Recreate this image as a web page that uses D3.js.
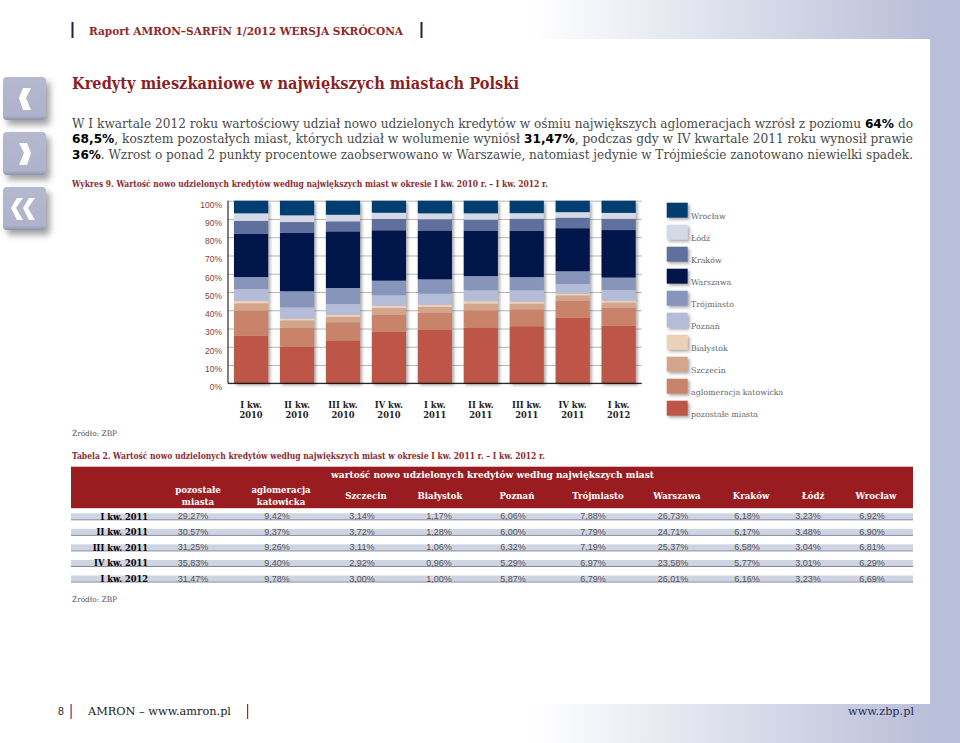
<!DOCTYPE html>
<html><head><meta charset="utf-8">
<script src="https://cdn.jsdelivr.net/npm/d3@7"></script>
<style>
html,body{margin:0;padding:0;background:#fff}
svg{display:block}
text{font-family:"DejaVu Serif",serif}
.sans{font-family:"Liberation Sans",Arial,sans-serif}
.domain{display:none}
</style></head><body>
<div id="chart"></div>
<script>
const seriesNames=["pozostałe miasta","aglomeracja katowicka","Szczecin","Białystok","Poznań","Trójmiasto","Warszawa","Kraków","Łódź","Wrocław"];
const seriesColors=["#bd5747","#c9836a","#d3a68c","#ecd0b8","#b5bcd7","#8795ba","#00134b","#5f6f9f","#d5d9e6","#003c71"];
const quarters2010=["I kw. 2010","II kw. 2010","III kw. 2010","IV kw. 2010"];
const q1_2010=[26.1,13.7,4.0,1.3,6.5,6.6,23.6,7.2,4.1,6.9];
const q2_2010=[20.1,10.4,4.0,0.9,6.2,8.8,32.1,5.8,3.7,8.0];
const q3_2010=[23.5,9.9,2.9,1.1,6.0,8.8,31.0,5.5,3.6,7.7];
const q4_2010=[28.3,9.3,3.6,1.3,5.7,8.0,27.6,6.2,3.4,6.6];
const quarters=["I kw. 2011","II kw. 2011","III kw. 2011","IV kw. 2011","I kw. 2012"];
const q1_2011=[29.27,9.42,3.14,1.17,6.06,7.88,26.73,6.18,3.23,6.92];
const q2_2011=[30.57,9.37,3.72,1.28,6.00,7.79,24.71,6.17,3.48,6.90];
const q3_2011=[31.25,9.26,3.11,1.06,6.32,7.19,25.37,6.58,3.04,6.81];
const q4_2011=[35.83,9.40,2.92,0.96,5.29,6.97,23.58,5.77,3.01,6.29];
const q1_2012=[31.47,9.78,3.00,1.00,5.87,6.79,26.01,6.16,3.23,6.69];
const yTicks=[0,10,20,30,40,50,60,70,80,90,100];

const svg=d3.select("#chart").append("svg").attr("width",960).attr("height",743);
const defs=svg.append("defs");
const g1=defs.append("linearGradient").attr("id","fade");
g1.append("stop").attr("offset","0").attr("stop-color","#fff");
g1.append("stop").attr("offset","1").attr("stop-color","#b9bfd8");
const sh=defs.append("filter").attr("id","sh").attr("x","-20%").attr("y","-20%").attr("width","150%").attr("height","150%");
sh.append("feDropShadow").attr("dx",2).attr("dy",2).attr("stdDeviation",1.6).attr("flood-color","#555").attr("flood-opacity",.5);
const shb=defs.append("filter").attr("id","shb").attr("x","-30%").attr("y","-30%").attr("width","170%").attr("height","170%");
shb.append("feDropShadow").attr("dx",4).attr("dy",5).attr("stdDeviation",3).attr("flood-color","#555").attr("flood-opacity",.55);
const g2=defs.append("linearGradient").attr("id","btn").attr("x1",0).attr("y1",0).attr("x2",0).attr("y2",1);
g2.append("stop").attr("offset","0").attr("stop-color","#b4b9d0");
g2.append("stop").attr("offset",".9").attr("stop-color","#aeb3cb");
g2.append("stop").attr("offset","1").attr("stop-color","#8e93ac");

// page background
svg.append("rect").attr("x",530).attr("y",0).attr("width",400).attr("height",743).attr("fill","url(#fade)");
svg.append("rect").attr("x",930).attr("y",0).attr("width",30).attr("height",743).attr("fill","#b9bfd8");
svg.append("rect").attr("x",0).attr("y",39).attr("width",930).attr("height",665).attr("fill","#fff");

function T(x,y,s,size,fill,opts={}){
  const t=svg.append("text").attr("x",x).attr("y",y).attr("font-size",size).attr("fill",fill).text(s);
  if(opts.bold)t.attr("font-weight",700);
  if(opts.anchor)t.attr("text-anchor",opts.anchor);
  if(opts.len)t.attr("textLength",opts.len).attr("lengthAdjust","spacingAndGlyphs");
  if(opts.sans)t.attr("class","sans");
  return t;
}
// header
svg.append("rect").attr("x",71.5).attr("y",22).attr("width",2).attr("height",16).attr("fill","#1b2340");
svg.append("rect").attr("x",420.5).attr("y",22).attr("width",2).attr("height",16).attr("fill","#1b2340");
T(89,34.5,"Raport AMRON–SARFiN 1/2012 WERSJA SKRÓCONA",11.5,"#8e2a30",{bold:true,len:314});
T(72,89,"Kredyty mieszkaniowe w największych miastach Polski",17,"#8c1f24",{bold:true,len:447});

// buttons
[[3,77,"M31 88 L26 98 L31 110 L23 110 L19 98 L23 88Z"],[3,132,"M19 143 L24 153 L19 165 L27 165 L31 153 L27 143Z"]].forEach(b=>{
  svg.append("rect").attr("x",b[0]).attr("y",b[1]).attr("width",43).attr("height",43).attr("rx",4).attr("fill","url(#btn)").attr("filter","url(#shb)");
  svg.append("path").attr("d",b[2]).attr("fill","#fff");
});
svg.append("rect").attr("x",3).attr("y",187).attr("width",43).attr("height",43).attr("rx",4).attr("fill","url(#btn)").attr("filter","url(#shb)");
svg.append("path").attr("d","M23 198 L16 208 L23 220 L17 220 L11 208 L17 198Z M35 198 L28 208 L35 220 L29 220 L23 208 L29 198Z").attr("fill","#fff");

// body
const bodyLines=[
 [["W I kwartale 2012 roku wartościowy udział nowo udzielonych kredytów w ośmiu największych aglomeracjach wzrósł z poziomu ",0],["64%",1],[" do",0]],
 [["68,5%",1],[", kosztem pozostałych miast, których udział w wolumenie wyniósł ",0],["31,47%",1],[", podczas gdy w IV kwartale 2011 roku wynosił prawie",0]],
 [["36%",1],[". Wzrost o ponad 2 punkty procentowe zaobserwowano w Warszawie, natomiast jedynie w Trójmieście zanotowano niewielki spadek.",0]]
];
const bodyLen=[841,841,841];
bodyLines.forEach((ln,i)=>{
  const t=svg.append("text").attr("x",72).attr("y",128+15.4*i).attr("font-size",12).attr("fill","#4a4a4a").attr("textLength",bodyLen[i]).attr("lengthAdjust","spacingAndGlyphs");
  ln.forEach(p=>{const s=t.append("tspan").text(p[0]);
    if(p[1])s.attr("font-family",'"DejaVu Sans",sans-serif').attr("font-weight",700).attr("fill","#000");});
});
T(72,187,"Wykres 9. Wartość nowo udzielonych kredytów według największych miast w okresie I kw. 2010 r. – I kw. 2012 r.",8.5,"#8c2a30",{bold:true,len:476});

// chart
const allCats=quarters2010.concat(quarters);
const rows=[q1_2010,q2_2010,q3_2010,q4_2010,q1_2011,q2_2011,q3_2011,q4_2011,q1_2012];
const y=d3.scaleLinear().domain([0,100]).range([383.3,200.7]);
const x=d3.scaleBand().domain(allCats).range([228,641.7]).paddingInner(0.255).paddingOuter(0.13);
const gy=svg.append("g").attr("transform","translate(228,0)").call(d3.axisLeft(y).tickValues(yTicks).tickFormat(d=>d+"%").tickSize(-413.7).tickPadding(6));
gy.selectAll(".tick line").attr("stroke","#b5b5b5");
gy.selectAll(".tick text").attr("font-size",8.5).attr("fill","#8b3a3a").attr("dy","0.75em").attr("class","sans").style("font-family",'"Liberation Sans",sans-serif');
svg.append("line").attr("x1",228).attr("x2",228).attr("y1",200.7).attr("y2",383.3).attr("stroke","#000").attr("stroke-width",1);
const data=allCats.map((c,i)=>{const o={c};seriesNames.forEach((s,j)=>o[s]=rows[i][j]);return o;});
const stack=d3.stack().keys(seriesNames)(data);
const barG=svg.append("g");
barG.selectAll("g.bar").data(allCats).join("g").attr("filter","url(#sh)").each(function(c,i){
  d3.select(this).selectAll("rect").data(stack).join("rect")
   .attr("x",x(c)).attr("width",x.bandwidth())
   .attr("y",s=>y(Math.min(100,s[i][1]))).attr("height",s=>y(s[i][0])-y(Math.min(100,s[i][1])))
   .attr("fill",(s,k)=>seriesColors[k]);
});
svg.append("line").attr("x1",228).attr("x2",641.7).attr("y1",383.3).attr("y2",383.3).attr("stroke","#000").attr("stroke-width",1);
const xa=svg.append("g").selectAll("text").data(allCats).join("text")
  .attr("text-anchor","middle").attr("font-size",8.3).attr("font-weight",700).attr("fill","#222")
  .attr("transform",c=>`translate(${x(c)+x.bandwidth()/2},0)`);
xa.each(function(c){const m=c.match(/^(.* kw\.) (\d+)$/);
  d3.select(this).append("tspan").attr("x",0).attr("y",408).text(m[1]);
  d3.select(this).append("tspan").attr("x",0).attr("y",418).text(m[2]);});

// legend (top = Wrocław)
const legY=d3.scalePoint().domain(seriesNames.slice().reverse()).range([202.7,400.7]);
seriesNames.forEach((s,i)=>{
  svg.append("rect").attr("x",666.7).attr("y",legY(s)).attr("width",21).attr("height",15).attr("fill",seriesColors[i]).attr("filter","url(#sh)");
  T(691,legY(s)+16.5,s,7.9,"#666");
});

T(72,436,"Źródło: ZBP",7.4,"#555");
T(72,459,"Tabela 2. Wartość nowo udzielonych kredytów według największych miast w okresie I kw. 2011 r. – I kw. 2012 r.",8.5,"#8c2a30",{bold:true,len:473});

// table
svg.append("rect").attr("x",71).attr("y",466.7).attr("width",842).attr("height",41.5).attr("fill","#991c20");
T(331,478,"wartość nowo udzielonych kredytów według największych miast",9,"#fff",{bold:true,len:323});
const headX=[198,281,366,440,517,598,677,751,813,876];
const valX=[193,277,362,439,513,593,673,747,808,872];
const headers=[["pozostałe","miasta"],["aglomeracja","katowicka"],["Szczecin"],["Białystok"],["Poznań"],["Trójmiasto"],["Warszawa"],["Kraków"],["Łódź"],["Wrocław"]];
headers.forEach((h,i)=>{
  if(h.length==2){T(headX[i],492.5,h[0],8.6,"#fff",{anchor:"middle",bold:true});T(headX[i],504.5,h[1],8.6,"#fff",{anchor:"middle",bold:true});}
  else T(headX[i],498.5,h[0],8.6,"#fff",{anchor:"middle",bold:true});
});
const tRows=[q1_2011,q2_2011,q3_2011,q4_2011,q1_2012];
const fmt=v=>v.toFixed(2).replace(".",",")+"%";
quarters.forEach((q,r)=>{
  const yy=513.3+15.55*r;
  svg.append("rect").attr("x",71).attr("y",yy).attr("width",842).attr("height",6).attr("fill","#d0d4e2");
  svg.append("rect").attr("x",71).attr("y",yy+6).attr("width",842).attr("height",1).attr("fill","#7c84a0");
  const lab=T(148,yy+6.4,q,9.2,"#000",{bold:true,anchor:"end"});
  lab.attr("textLength",lab.node().getComputedTextLength()*0.9).attr("lengthAdjust","spacingAndGlyphs");
  tRows[r].forEach((v,c)=>T(valX[c],yy+6,fmt(v),9,"#555",{anchor:"middle",sans:true}));
});
T(72,602,"Źródło: ZBP",7.4,"#555");

// footer
T(58,715,"8",10.5,"#222").attr("class","sans");
svg.append("rect").attr("x",70.5).attr("y",704).attr("width",1.2).attr("height",15).attr("fill","#a5252b");
svg.append("rect").attr("x",247).attr("y",704).attr("width",1.2).attr("height",15).attr("fill","#a5252b");
T(88,715,"AMRON – www.amron.pl",10.5,"#222",{len:143});
T(848,715,"www.zbp.pl",10.5,"#2a2f52",{len:66});
</script></body></html>
